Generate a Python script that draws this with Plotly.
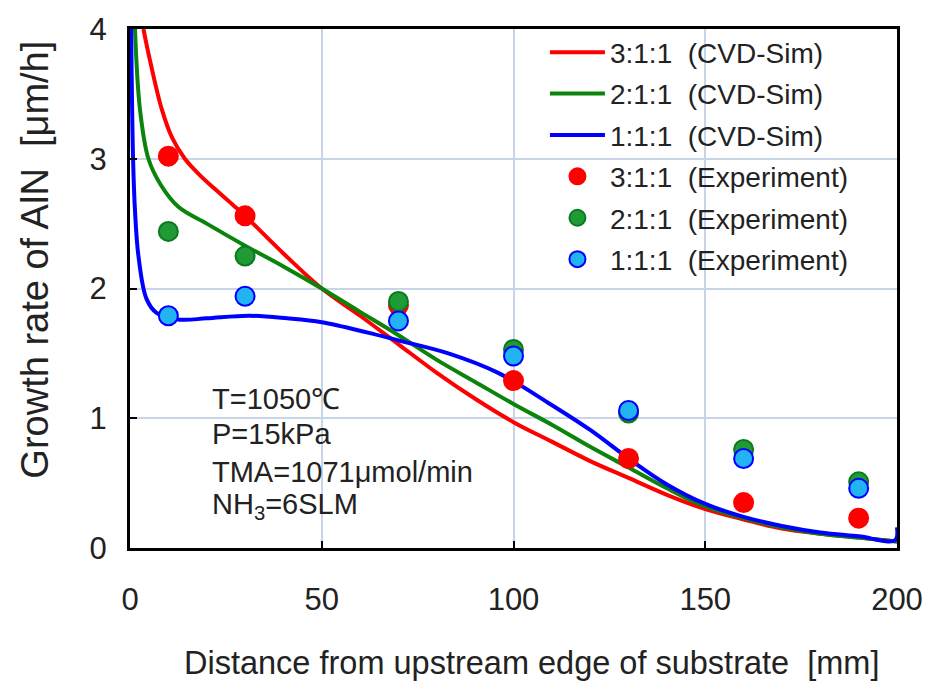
import plotly.graph_objects as go

# ---- data ----
sim_red_x = [3.5, 5.2, 8.3, 11, 14.3, 18, 22, 27, 30, 40, 50, 60, 70, 80, 90, 100, 110, 120, 130, 140, 150, 160, 170, 180, 190, 200]
sim_red_y = [4.0, 3.76, 3.38, 3.16, 3.0, 2.88, 2.77, 2.64, 2.56, 2.27, 2.0, 1.79, 1.57, 1.35, 1.15, 0.97, 0.82, 0.67, 0.54, 0.41, 0.30, 0.22, 0.15, 0.11, 0.08, 0.05]

sim_green_x = [1.3, 2.6, 4.8, 8, 12.6, 20, 30, 40, 50, 60, 70, 80, 90, 100, 110, 120, 130, 140, 150, 160, 170, 180, 190, 200]
sim_green_y = [4.0, 3.38, 3.0, 2.8, 2.63, 2.5, 2.33, 2.17, 2.0, 1.82, 1.64, 1.45, 1.28, 1.11, 0.95, 0.78, 0.62, 0.46, 0.32, 0.23, 0.16, 0.11, 0.08, 0.05]

sim_blue_x = [0.3, 0.8, 1.3, 2.2, 4.3, 7, 13, 20, 31, 41, 50, 62, 70, 83, 96, 109, 120, 130, 140, 150, 160, 170, 180, 190, 199.5, 200]
sim_blue_y = [4.0, 3.0, 2.6, 2.25, 1.92, 1.81, 1.76, 1.77, 1.79, 1.77, 1.74, 1.66, 1.60, 1.50, 1.35, 1.12, 0.91, 0.69, 0.49, 0.34, 0.24, 0.17, 0.12, 0.09, 0.06, 0.16]

exp_x = [10, 30, 70, 100, 130, 160, 190]
exp_red = [3.02, 2.56, 1.87, 1.29, 0.69, 0.35, 0.23]
exp_green = [2.44, 2.25, 1.90, 1.53, 1.04, 0.76, 0.51]
exp_blue = [1.79, 1.94, 1.75, 1.48, 1.06, 0.69, 0.46]

x_ticks = [0, 50, 100, 150, 200]
y_ticks = [0, 1, 2, 3, 4]

cond_lines = ["T=1050℃", "P=15kPa", "TMA=1071μmol/min", "NH<sub>3</sub>=6SLM"]
cond_y = [1.15, 0.877, 0.582, 0.325]

SP = "\u00a0\u00a0"
FONT = "Liberation Sans, Arial, sans-serif"

fig = go.Figure()

for name, xs, ys, col in [
    ("3:1:1" + SP + "(CVD-Sim)", sim_red_x, sim_red_y, "#ff0000"),
    ("2:1:1" + SP + "(CVD-Sim)", sim_green_x, sim_green_y, "#0a840a"),
    ("1:1:1" + SP + "(CVD-Sim)", sim_blue_x, sim_blue_y, "#0000ff"),
]:
    fig.add_trace(go.Scatter(x=xs, y=ys, mode="lines", name=name, legendgroup=name,
                             line=dict(color=col, width=4, shape="spline", smoothing=1.0)))

for name, ys, fill, edge in [
    ("3:1:1" + SP + "(Experiment)", exp_red, "#ff0000", "#ff0000"),
    ("2:1:1" + SP + "(Experiment)", exp_green, "#1f9a35", "#0b7a1f"),
    ("1:1:1" + SP + "(Experiment)", exp_blue, "#22b4f2", "#0000ff"),
]:
    fig.add_trace(go.Scatter(x=exp_x, y=ys, mode="markers", name=name, legendgroup=name,
                             marker=dict(color=fill, size=19, line=dict(color=edge, width=2))))

for t, yy in zip(cond_lines, cond_y):
    fig.add_annotation(x=20.8, y=yy, xref="x", yref="y", text=t, showarrow=False,
                       xanchor="left", yanchor="middle",
                       font=dict(family=FONT, size=29, color="#222222"))

fig.add_annotation(x=-0.125, y=0.5, xref="paper", yref="paper", xanchor="center", yanchor="middle",
                   text="Growth rate of AlN" + SP + "[μm/h]", textangle=-90, showarrow=False,
                   yshift=29, font=dict(family=FONT, size=38, color="#222222"))
fig.add_annotation(x=0.5, y=0, xref="paper", yref="paper", xanchor="center", yanchor="middle",
                   text="Distance from upstream edge of substrate" + SP + "[mm]", showarrow=False,
                   xshift=18, yshift=-115, font=dict(family=FONT, size=32.5, color="#222222"))

axis_common = dict(showline=True, linecolor="black", linewidth=3, mirror=True,
                   showgrid=True, gridcolor="#c8d4e8", gridwidth=2, zeroline=False,
                   ticks="inside", ticklen=7, tickwidth=2, tickcolor="black",
                   tickfont=dict(family=FONT, size=31, color="#222222"))

fig.update_xaxes(range=[0, 200], tickvals=x_ticks, ticklabelstandoff=22, **axis_common)
fig.update_yaxes(range=[0, 4], tickvals=y_ticks, ticklabelstandoff=14, **axis_common)

fig.update_layout(
    width=945, height=682,
    margin=dict(l=130, r=48, t=19, b=134),
    paper_bgcolor="white", plot_bgcolor="white",
    font=dict(family=FONT, color="#222222"),
    legend=dict(x=0.541, y=1.003, xanchor="left", yanchor="top",
                bgcolor="rgba(255,255,255,0)", itemwidth=55, tracegroupgap=2,
                font=dict(family=FONT, size=28, color="#222222")),
)

fig.write_html("out.html")
